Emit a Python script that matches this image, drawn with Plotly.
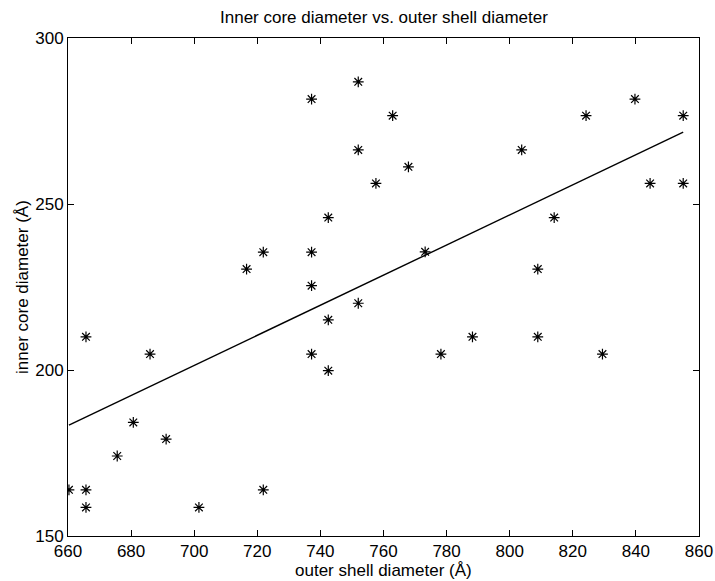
import numpy as np
import plotly.graph_objects as go

# Data
outer_shell = [660.3, 665.7, 665.7, 665.7, 675.6, 680.7, 686.0, 691.1, 701.5, 716.6,
               721.9, 721.9, 737.2, 737.2, 737.2, 737.2, 742.5, 742.5, 742.5, 752.0,
               752.0, 752.0, 757.6, 762.9, 767.9, 773.2, 778.2, 788.2, 803.8, 808.9,
               808.9, 814.1, 824.2, 829.4, 839.7, 844.5, 855.0, 855.0]
inner_core = [163.9, 163.9, 158.6, 210.0, 174.1, 184.2, 204.8, 179.2, 158.6, 230.4,
              235.5, 163.9, 281.6, 235.5, 225.4, 204.8, 245.9, 215.1, 199.8, 286.8,
              266.3, 220.1, 256.2, 276.6, 261.2, 235.6, 204.8, 210.0, 266.3, 230.4,
              210.0, 245.9, 276.6, 204.8, 281.6, 256.2, 276.6, 256.2]

x_ticks = [660, 680, 700, 720, 740, 760, 780, 800, 820, 840, 860]
y_ticks = [150, 200, 250, 300]

# least-squares fit line across the data range
slope, intercept = np.polyfit(outer_shell, inner_core, 1)
fit_x = np.array([min(outer_shell), max(outer_shell)])
fit_y = slope * fit_x + intercept

W, H = 715, 581
L, R, T, B = 68, 16, 38, 45
pw, ph = W - L - R, H - T - B
FONT = "Liberation Sans, Arial, Helvetica, sans-serif"
FS = 17

fig = go.Figure()
fig.add_trace(go.Scatter(
    x=outer_shell, y=inner_core, mode="markers",
    marker=dict(symbol="asterisk-open", size=9, color="black",
                line=dict(color="black", width=1.2)),
    showlegend=False, hoverinfo="x+y"))
fig.add_trace(go.Scatter(
    x=fit_x, y=fit_y, mode="lines",
    line=dict(color="black", width=1.4), showlegend=False))

axis_common = dict(
    showline=True, linecolor="black", linewidth=1, mirror="ticks",
    ticks="inside", ticklen=6, tickwidth=1, tickcolor="black",
    showgrid=False, zeroline=False,
    tickfont=dict(family=FONT, size=FS, color="black"),
)

fig.update_layout(
    width=W, height=H,
    margin=dict(l=L, r=R, t=T, b=B, autoexpand=False),
    paper_bgcolor="white", plot_bgcolor="white",
    xaxis=dict(range=[660, 860], tickvals=x_ticks, **axis_common),
    yaxis=dict(range=[150, 300], tickvals=y_ticks, **axis_common),
    font=dict(family=FONT, size=FS, color="black"),
    annotations=[
        dict(text="Inner core diameter vs. outer shell diameter",
             xref="paper", yref="paper", x=0.5, y=1 + (T - 18) / ph,
             xanchor="center", yanchor="middle", showarrow=False,
             font=dict(family=FONT, size=FS, color="black")),
        dict(text="outer shell diameter (Å)",
             xref="paper", yref="paper", x=0.5, y=-(570 - (H - B)) / ph,
             xanchor="center", yanchor="middle", showarrow=False,
             font=dict(family=FONT, size=FS, color="black")),
        dict(text="inner core diameter (Å)",
             xref="paper", yref="paper", x=(22 - L) / pw, y=0.5,
             xanchor="center", yanchor="middle", textangle=-90, showarrow=False,
             font=dict(family=FONT, size=FS, color="black")),
    ],
)

fig.write_html(
    "out.html",
    config={"displayModeBar": False},
    post_script="document.body.style.margin='0';document.body.style.overflow='hidden';",
)
